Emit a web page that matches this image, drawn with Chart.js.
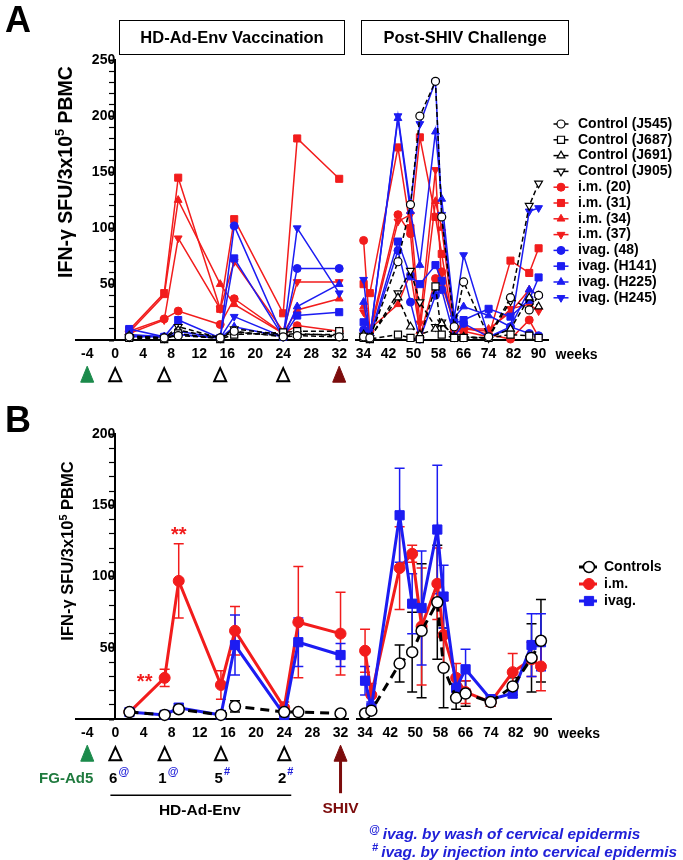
<!DOCTYPE html>
<html>
<head>
<meta charset="utf-8">
<title>IFN-γ ELISPOT after HD-Ad-Env vaccination and SHIV challenge</title>
<script src="https://cdn.jsdelivr.net/npm/chart.js@4.4.1/dist/chart.umd.min.js"></script>
<style>
  body { margin: 0; background: #fff; font-family: "Liberation Sans", Arial, sans-serif; }
  #figure { position: relative; width: 683px; height: 860px; overflow: hidden; }
  canvas, .lbl { position: absolute; }
  .panel { font-weight: bold; font-size: 36px; line-height: 1; }
  .phase { border: 1.5px solid #000; font-weight: bold; font-size: 16.5px; text-align: center;
           box-sizing: border-box; height: 35px; line-height: 32px; white-space: nowrap; }
  .ytitle { font-weight: bold; white-space: nowrap; transform: translate(-50%, -50%) rotate(-90deg); }
  .ytitle sup { font-size: 65%; }
  .note { color: #2020d8; font-weight: bold; font-style: italic; font-size: 15.4px; line-height: 17px; white-space: nowrap; }
  .note sup { font-size: 11px; margin-right: 3px; }
</style>
</head>
<body>
<div id="figure">
  <canvas id="chartA" width="683" height="400" style="left:0;top:0"></canvas>
  <canvas id="chartB" width="683" height="460" style="left:0;top:400px"></canvas>

  <div class="lbl panel" style="left:5px;top:2px">A</div>
  <div class="lbl panel" style="left:5px;top:402px">B</div>
  <div class="lbl phase" style="left:119px;top:20px;width:226px">HD-Ad-Env Vaccination</div>
  <div class="lbl phase" style="left:361px;top:20px;width:208px">Post-SHIV Challenge</div>
  <div class="lbl ytitle" style="left:65px;top:172px;font-size:19.5px">IFN-γ SFU/3x10<sup>5</sup> PBMC</div>
  <div class="lbl ytitle" style="left:67px;top:551px;font-size:16.5px">IFN-γ SFU/3x10<sup>5</sup> PBMC</div>
  <div class="lbl note" style="left:369px;top:821px"><sup>@</sup>ivag. by wash of cervical epidermis</div>
  <div class="lbl note" style="left:372px;top:839px"><sup>#</sup>ivag. by injection into cervical epidermis</div>
</div>

<script>
// sampling weeks: vaccination phase / after SHIV challenge
const weeksPre = [2, 7, 9, 15, 17, 24, 26, 32];
const weeksPost = [34, 36, 45, 49, 52, 57, 59, 63, 66, 74, 81, 87, 90];
const tickPre = [-4, 0, 4, 8, 12, 16, 20, 24, 28, 32];
const tickPost = [34, 42, 50, 58, 66, 74, 82, 90];

// immunization schedule
const primeWeek = -4;
const boostWeeks = [0, 7, 15, 24];
const boostCounts = ['6', '1', '5', '2'];
const boostMarks = ['@', '@', '#', '#'];
const challengeWeek = 32;

// Panel A, single animals (8 vaccination-phase values, then 13 post-challenge)
const ctlJ545 = [3, 2, 4, 2, 8, 3, 4, 3, 3, 2, 70, 121, 200, 231, 110, 12, 52, 3, 38, 27, 40];
const ctlJ687 = [2, 1, 6, 1, 5, 7, 8, 8, 2, 1, 5, 2, 1, 48, 5, 2, 2, 2, 5, 4, 2];
const ctlJ691 = [4, 2, 9, 2, 7, 4, 5, 5, 5, 2, 38, 12, 5, 10, 15, 3, 3, 2, 10, 38, 30];
const ctlJ905 = [3, 2, 12, 2, 10, 5, 6, 4, 4, 2, 42, 62, 34, 12, 16, 3, 3, 2, 35, 120, 140];
const im20 = [8, 19, 26, 14, 37, 6, 13, 8, 89, 8, 112, 95, 2, 55, 61, 10, 12, 5, 1, 18, 3];
const im31 = [9, 42, 145, 28, 108, 24, 180, 144, 50, 42, 172, 100, 181, 110, 77, 8, 8, 3, 71, 60, 82];
const im34 = [7, 40, 125, 50, 32, 6, 27, 37, 30, 10, 32, 60, 8, 124, 100, 12, 10, 10, 25, 45, 40];
const im37 = [6, 18, 91, 28, 70, 8, 52, 52, 25, 5, 106, 112, 15, 152, 50, 15, 10, 8, 28, 32, 26];
const iv48 = [4, 3, 5, 2, 102, 3, 64, 64, 9, 2, 80, 34, 1, 40, 45, 3, 15, 3, 12, 6, 4];
const ivH141 = [10, 3, 18, 2, 73, 3, 22, 25, 16, 3, 88, 57, 50, 67, 53, 15, 18, 28, 21, 36, 56];
const ivH225 = [5, 3, 8, 2, 12, 3, 30, 50, 34, 2, 198, 115, 67, 186, 126, 20, 30, 22, 12, 45, 40];
const ivH245 = [3, 3, 5, 2, 21, 3, 100, 42, 54, 2, 200, 120, 193, 231, 112, 20, 76, 3, 10, 115, 118];

// Panel B, group means and SEM
const ctlMean = [5, 3, 7, 3, 9, 5, 5, 4, 4, 6, 39, 47, 62, 82, 36, 15, 18, 12, 23, 43, 55];
const ctlSem = [1, 1, 2, 1, 4, 1, 1, 1, 1, 1, 13, 28, 47, 40, 28, 8, 9, 3, 6, 24, 29];
const imMean = [5, 29, 97, 24, 62, 8, 68, 60, 48, 17, 106, 116, 65, 95, 59, 29, 19, 12, 33, 42, 37];
const imSem = [1, 6, 26, 10, 17, 4, 39, 29, 15, 8, 29, 6, 41, 25, 24, 10, 8, 3, 13, 12, 17];
const ivMean = [5, 3, 8, 3, 52, 3, 54, 45, 27, 8, 143, 81, 78, 133, 86, 22, 35, 14, 18, 52, 54];
const ivSem = [1, 1, 3, 1, 21, 1, 17, 8, 10, 4, 33, 21, 40, 45, 22, 8, 14, 3, 3, 22, 20];
const sigIndex = [1, 2]; // ** at weeks 7 and 9

const FONT = '"Liberation Sans", Arial, Helvetica, sans-serif';
Chart.defaults.font.family = FONT;
Chart.defaults.color = '#000';

const RED = '#f21c1c', BLUE = '#1c1cf2', BLACK = '#000000';
const GREEN = '#1b8a4b', GREEN_TEXT = '#1f7a3e', DARK_RED = '#7c0c0c', MARK_BLUE = '#2020d8';

function bold(size) { return 'bold ' + size + 'px ' + FONT; }

function toPoints(vals) {
  const n = weeksPre.length;
  return [
    weeksPre.map((w, i) => ({ x: w, y: vals[i] })),
    weeksPost.map((w, i) => ({ x: w, y: vals[n + i] }))
  ];
}

function makeDatasets(series, look) {
  const out = [];
  series.forEach(s => {
    const open = s.color === BLACK;
    const errs = s.errors ? [s.errors.slice(0, weeksPre.length), s.errors.slice(weeksPre.length)] : [null, null];
    toPoints(s.values).forEach((pts, part) => {
      out.push({
        label: s.label,
        data: pts,
        xAxisID: part === 0 ? 'xPre' : 'xPost',
        yAxisID: 'y',
        inLegend: part === 0,
        errors: errs[part],
        borderColor: s.color,
        backgroundColor: open ? '#fff' : s.color,
        pointBackgroundColor: open ? '#fff' : s.color,
        pointBorderColor: s.color,
        pointStyle: s.shape === 'down' ? 'triangle' : s.shape,
        pointRotation: s.shape === 'down' ? 180 : 0,
        pointRadius: look.radius[s.shape],
        pointBorderWidth: open ? look.openBorder : 1,
        borderWidth: look.line,
        borderDash: open ? look.dash : [],
        tension: 0,
        clip: false,
        order: open ? 1 : (s.color === BLUE ? 2 : 3)
      });
    });
  });
  return out;
}

function triangle(ctx, x, top, w, h, fill, stroke, lw) {
  ctx.beginPath();
  ctx.moveTo(x, top);
  ctx.lineTo(x + w / 2, top + h);
  ctx.lineTo(x - w / 2, top + h);
  ctx.closePath();
  ctx.fillStyle = fill;
  ctx.fill();
  ctx.lineWidth = lw;
  ctx.strokeStyle = stroke;
  ctx.lineJoin = 'miter';
  ctx.stroke();
}

// error bars (mean ± SEM) drawn through the dataset's own scales
const errorBars = {
  id: 'errorBars',
  beforeDatasetsDraw(chart) {
    const ctx = chart.ctx;
    chart.data.datasets.forEach((ds, i) => {
      if (!ds.errors) return;
      const meta = chart.getDatasetMeta(i);
      const xs = meta.xScale, ys = meta.yScale;
      ctx.save();
      ctx.strokeStyle = ds.borderColor;
      ctx.lineWidth = 1.5;
      ds.data.forEach((p, j) => {
        const e = ds.errors[j];
        const x = xs.getPixelForValue(p.x);
        const y1 = ys.getPixelForValue(p.y + e);
        const y2 = ys.getPixelForValue(Math.max(p.y - e, 0));
        ctx.beginPath();
        ctx.moveTo(x, y1); ctx.lineTo(x, y2);
        ctx.moveTo(x - 5, y1); ctx.lineTo(x + 5, y1);
        ctx.moveTo(x - 5, y2); ctx.lineTo(x + 5, y2);
        ctx.stroke();
      });
      ctx.restore();
    });
  }
};

// legend (line piece + marker + name) drawn from the dataset styles
const seriesLegend = {
  id: 'seriesLegend',
  afterDraw(chart, args, opts) {
    const ctx = chart.ctx;
    ctx.save();
    chart.data.datasets.filter(d => d.inLegend).forEach((ds, i) => {
      const y = opts.y + i * opts.step;
      ctx.strokeStyle = ds.borderColor;
      ctx.lineWidth = ds.borderWidth;
      ctx.beginPath();
      ctx.moveTo(opts.x - opts.left, y); ctx.lineTo(opts.x + opts.right, y);
      ctx.stroke();
      ctx.fillStyle = ds.pointBackgroundColor;
      ctx.strokeStyle = ds.pointBorderColor;
      ctx.lineWidth = ds.pointBorderWidth;
      Chart.helpers.drawPoint(ctx, {
        pointStyle: ds.pointStyle, rotation: ds.pointRotation,
        radius: ds.pointRadius, borderWidth: ds.pointBorderWidth
      }, opts.x, y);
      ctx.fillStyle = '#000';
      ctx.font = bold(14);
      ctx.textAlign = 'left';
      ctx.textBaseline = 'middle';
      ctx.fillText(ds.label, opts.x + opts.text, y);
    });
    ctx.restore();
  }
};

// week label, schedule triangles and the panel B schedule notes
const timeline = {
  id: 'timeline',
  afterDraw(chart, args, opts) {
    const ctx = chart.ctx;
    const xs = chart.scales.xPre, xp = chart.scales.xPost, ys = chart.scales.y;
    const b = chart.chartArea.bottom;
    ctx.save();
    ctx.font = bold(14);
    ctx.fillStyle = '#000';
    ctx.textBaseline = 'middle';
    ctx.textAlign = 'left';
    ctx.fillText('weeks', xp.right + 7, b + 15);

    triangle(ctx, xs.getPixelForValue(primeWeek), b + 26, 13, 16, GREEN, GREEN, 1);
    boostWeeks.forEach(w => triangle(ctx, xs.getPixelForValue(w), b + 28, 12, 13, '#fff', '#000', 2));
    const xc = xs.getPixelForValue(challengeWeek);
    triangle(ctx, xc, b + 26, 13, 16, DARK_RED, DARK_RED, 1);

    if (opts.labels) {
      // shaft of the challenge arrow
      ctx.fillStyle = DARK_RED;
      ctx.fillRect(xc - 1.5, b + 40, 3, 34);
      ctx.font = bold(15.5);
      ctx.textAlign = 'center';
      ctx.fillText('SHIV', xc, b + 90);

      ctx.fillStyle = GREEN_TEXT;
      ctx.textAlign = 'right';
      ctx.font = bold(15);
      ctx.fillText('FG-Ad5', xs.getPixelForValue(primeWeek) + 6, b + 60);

      boostWeeks.forEach((w, i) => {
        const x = xs.getPixelForValue(w);
        ctx.fillStyle = '#000';
        ctx.textAlign = 'right';
        ctx.font = bold(15);
        ctx.fillText(boostCounts[i], x + 2, b + 60);
        ctx.fillStyle = MARK_BLUE;
        ctx.textAlign = 'left';
        ctx.font = bold(11);
        ctx.fillText(boostMarks[i], x + 3, b + 53);
      });

      ctx.strokeStyle = '#000';
      ctx.lineWidth = 1.5;
      ctx.beginPath();
      ctx.moveTo(xs.getPixelForValue(boostWeeks[0]) - 5, b + 76);
      ctx.lineTo(xs.getPixelForValue(boostWeeks[3]) + 7, b + 76);
      ctx.stroke();
      ctx.fillStyle = '#000';
      ctx.font = bold(15.5);
      ctx.textAlign = 'center';
      ctx.fillText('HD-Ad-Env', xs.getPixelForValue((boostWeeks[0] + boostWeeks[3]) / 2), b + 92);

      // significance marks on the i.m. group
      ctx.fillStyle = RED;
      ctx.font = bold(20);
      const a = sigIndex[0], c = sigIndex[1];
      ctx.fillText('**', xs.getPixelForValue(weeksPre[a]) - 20, ys.getPixelForValue(imMean[a]) + 5);
      ctx.fillText('**', xs.getPixelForValue(weeksPre[c]), ys.getPixelForValue(imMean[c] + imSem[c]) - 8);
    }
    ctx.restore();
  }
};

function xAxis(min, max, weight, ticks) {
  return {
    type: 'linear', axis: 'x', position: 'bottom', stack: 'weeks', stackWeight: weight,
    min: min, max: max,
    afterBuildTicks: s => { s.ticks = ticks.map(v => ({ value: v })); },
    grid: { display: false, drawTicks: false },
    border: { display: true, color: '#000', width: 2 },
    ticks: { autoSkip: false, maxRotation: 0, padding: 6, color: '#000', font: { size: 14, weight: 'bold' },
             callback: v => String(v) }
  };
}

function buildChart(id, datasets, yMax, padding, opts, legend) {
  return new Chart(document.getElementById(id), {
    type: 'line',
    data: { datasets },
    options: {
      responsive: false,
      animation: false,
      layout: { padding },
      plugins: {
        legend: { display: false },
        tooltip: { enabled: false },
        timeline: opts,
        seriesLegend: legend
      },
      scales: {
        xPre: xAxis(-5.6, 33.2, 271.6, tickPre),
        xGap: {
          type: 'linear', axis: 'x', position: 'bottom', stack: 'weeks', stackWeight: 8, min: 0, max: 1,
          grid: { display: false, drawTicks: false }, border: { display: false }, ticks: { display: false }
        },
        xPost: xAxis(31.44, 93.2, 193, tickPost),
        y: {
          type: 'linear', axis: 'y', position: { xPre: 0 }, min: 0, max: yMax,
          grid: {
            display: true, drawOnChartArea: false, drawTicks: true, tickLength: 5, tickColor: '#000',
            tickWidth: c => (c.tick && c.tick.value % 50 === 0) ? 2 : 1.2
          },
          border: { display: true, color: '#000', width: 2 },
          ticks: {
            stepSize: 10, maxTicksLimit: 100, autoSkip: false, padding: 6, color: '#000',
            font: { size: 14, weight: 'bold' },
            callback: v => (v % 50 === 0 && v > 0) ? String(v) : ''
          }
        }
      }
    },
    plugins: [errorBars, seriesLegend, timeline]
  });
}

const animalsA = [
  { label: 'Control (J545)', values: ctlJ545, color: BLACK, shape: 'circle' },
  { label: 'Control (J687)', values: ctlJ687, color: BLACK, shape: 'rect' },
  { label: 'Control (J691)', values: ctlJ691, color: BLACK, shape: 'triangle' },
  { label: 'Control (J905)', values: ctlJ905, color: BLACK, shape: 'down' },
  { label: 'i.m. (20)', values: im20, color: RED, shape: 'circle' },
  { label: 'i.m. (31)', values: im31, color: RED, shape: 'rect' },
  { label: 'i.m. (34)', values: im34, color: RED, shape: 'triangle' },
  { label: 'i.m. (37)', values: im37, color: RED, shape: 'down' },
  { label: 'ivag. (48)', values: iv48, color: BLUE, shape: 'circle' },
  { label: 'ivag. (H141)', values: ivH141, color: BLUE, shape: 'rect' },
  { label: 'ivag. (H225)', values: ivH225, color: BLUE, shape: 'triangle' },
  { label: 'ivag. (H245)', values: ivH245, color: BLUE, shape: 'down' }
];

const groupsB = [
  { label: 'Controls', values: ctlMean, errors: ctlSem, color: BLACK, shape: 'circle' },
  { label: 'i.m.', values: imMean, errors: imSem, color: RED, shape: 'circle' },
  { label: 'ivag.', values: ivMean, errors: ivSem, color: BLUE, shape: 'rect' }
];

buildChart('chartA',
  makeDatasets(animalsA, { line: 1.5, openBorder: 1.2, dash: [5, 3], radius: { circle: 4, rect: 5, triangle: 4.5, down: 4.5 } }),
  250, { left: 76, top: 60, right: 134.4, bottom: 31 },
  { labels: false },
  { x: 561, y: 124, step: 15.8, left: 7.5, right: 7.5, text: 17 });

buildChart('chartB',
  makeDatasets(groupsB, { line: 3, openBorder: 1.5, dash: [9, 6], radius: { circle: 5.5, rect: 6.5 } }),
  200, { left: 76, top: 34, right: 132, bottom: 112 },
  { labels: true },
  { x: 589, y: 167, step: 17, left: 10, right: 8, text: 15 });
</script>
</body>
</html>
